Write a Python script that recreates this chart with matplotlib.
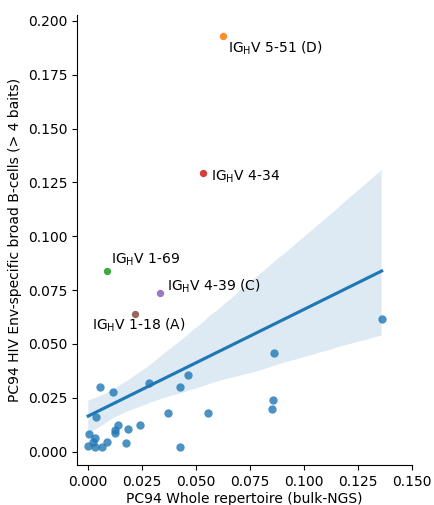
import numpy as np
import matplotlib
matplotlib.use("Agg")
import matplotlib.pyplot as plt
import seaborn as sns

# Blue points (whole repertoire vs Env-specific broad B-cells)
bulk_x = [0.0055, 0.0115, 0.0283, 0.0425, 0.0463, 0.0036, 0.0371, 0.0555,
          0.0006, 0.0141, 0.0126, 0.0126, 0.0183, 0.0243, 0.0032, 0.0022,
          0.0001, 0.0032, 0.0066, 0.0089, 0.0175, 0.0428, 0.1360, 0.0862,
          0.0857, 0.0851]
env_y = [0.0298, 0.0278, 0.0319, 0.0298, 0.0357, 0.0160, 0.0179, 0.0179,
         0.0080, 0.0124, 0.0101, 0.0085, 0.0104, 0.0124, 0.0062, 0.0046,
         0.0026, 0.0023, 0.0023, 0.0043, 0.0042, 0.0020, 0.0617, 0.0458,
         0.0238, 0.0198]

# Highlighted genes
hl_labels = [r"IG$_\mathrm{H}$V 5-51 (D)", r"IG$_\mathrm{H}$V 4-34",
             r"IG$_\mathrm{H}$V 1-69", r"IG$_\mathrm{H}$V 4-39 (C)",
             r"IG$_\mathrm{H}$V 1-18 (A)"]
hl_x = [0.0623, 0.0532, 0.0086, 0.0335, 0.0217]
hl_y = [0.1930, 0.1293, 0.0837, 0.0736, 0.0637]
hl_colors = ["tab:orange", "tab:red", "tab:green", "tab:purple", "tab:brown"]
# label offsets in pixels (dx, dy)
hl_offsets = [(5, -12), (8, -4), (4, 12), (7, 7), (-43, -11)]

fig = plt.figure(figsize=(4.34, 5.05), dpi=100)
ax = fig.add_axes([0.1774, 0.0792, 0.7716, 0.8908])

all_x = np.array(bulk_x + hl_x)
all_y = np.array(env_y + hl_y)
sns.regplot(x=all_x, y=all_y, ax=ax, color="tab:blue", ci=80, seed=0,
            scatter=False)
ax.scatter(bulk_x, env_y, color="tab:blue", s=36, alpha=0.8, linewidths=0, zorder=3)

for lab, x, y, c, (dx, dy) in zip(hl_labels, hl_x, hl_y, hl_colors, hl_offsets):
    ax.scatter([x], [y], color=c, s=28, alpha=0.9, linewidths=0, zorder=3)
    ax.annotate(lab, (x, y), xytext=(dx, dy), textcoords="offset pixels",
                ha="left", va="center", fontsize=10)

ax.set_xlim(-0.0051, 0.1498)
ax.set_ylim(-0.0062, 0.2027)
ax.set_xticks(np.arange(0, 0.1501, 0.025))
ax.set_yticks(np.arange(0, 0.2001, 0.025))
ax.set_xlabel("PC94 Whole repertoire (bulk-NGS)", labelpad=2)
ax.set_ylabel("PC94 HIV Env-specific broad B-cells (> 4 baits)", labelpad=4)
sns.despine(ax=ax)

fig.savefig("out.png", dpi=100)
